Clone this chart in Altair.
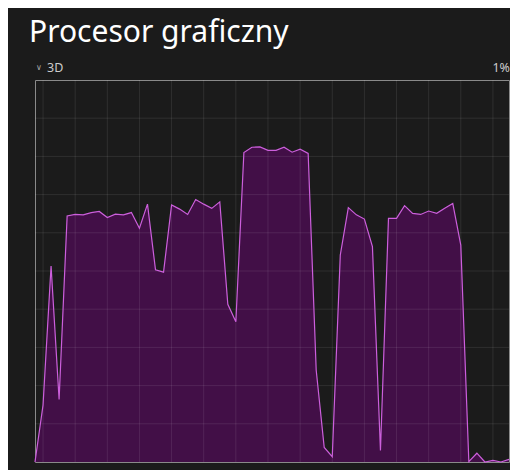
import altair as alt
import pandas as pd

# Seconds along the 60-second window
seconds = list(range(60))
# 3D engine usage (%)
usage = [0, 14.9, 51.3, 16.4, 64.4, 64.8, 64.7, 65.3, 65.6, 64.0,
         64.9, 64.7, 65.3, 61.2, 67.5, 50.3, 49.7, 67.3, 66.2, 64.8,
         68.7, 67.5, 66.4, 68.1, 41.3, 36.7, 81.0, 82.4, 82.5, 81.6,
         81.6, 82.4, 81.1, 81.9, 80.8, 24.1, 3.8, 1.4, 54.2, 66.6,
         64.7, 63.6, 56.4, 3.0, 63.8, 63.8, 67.1, 65.1, 64.8, 65.7,
         65.1, 66.4, 67.7, 56.8, 0.1, 2.3, 0, 0.4, 0, 0.7]
x_grid = list(range(1, 60, 4))
y_grid = list(range(10, 100, 10))

title_text = "Procesor graficzny"
engine_label = "3D"
current_label = "1%"

df = pd.DataFrame({"t": seconds, "v": usage})
gx = pd.DataFrame({"t": x_grid})
gy = pd.DataFrame({"v": y_grid})

BG = "#1b1b1b"
FILL = "#420f47"
LINE = "#cc5fdc"
FONT = "Noto Sans"

xs = alt.X("t:Q", scale=alt.Scale(domain=[0, 59], nice=False, zero=False),
           axis=None)
ys = alt.Y("v:Q", scale=alt.Scale(domain=[0, 100], nice=False), axis=None)

area = alt.Chart(df).mark_area(color=FILL, opacity=1).encode(x=xs, y=ys)
vgrid = alt.Chart(gx).mark_rule(color="#ffffff", opacity=0.09,
                                strokeWidth=1).encode(x="t:Q")
hgrid = alt.Chart(gy).mark_rule(color="#ffffff", opacity=0.09,
                                strokeWidth=1).encode(y="v:Q")
line = alt.Chart(df).mark_line(color=LINE, strokeWidth=1.2).encode(x="t:Q", y="v:Q")

tdf = pd.DataFrame({"a": [0]})
title = alt.Chart(tdf).mark_text(text=title_text, font=FONT, fontSize=30,
                                 color="#ffffff", align="left",
                                 baseline="alphabetic").encode(
    x=alt.value(-6), y=alt.value(-38))
chev = alt.Chart(tdf).mark_text(text="∨", font="DejaVu Sans", fontSize=8,
                                color="#aaaaaa", align="left",
                                baseline="alphabetic").encode(
    x=alt.value(1), y=alt.value(-10))
eng = alt.Chart(tdf).mark_text(text=engine_label, font=FONT, fontSize=12.5,
                               color="#cccccc", align="left",
                               baseline="alphabetic").encode(
    x=alt.value(12), y=alt.value(-8))
cur = alt.Chart(tdf).mark_text(text=current_label, font=FONT, fontSize=12.5,
                               color="#cccccc", align="right",
                               baseline="alphabetic").encode(
    x=alt.value(475), y=alt.value(-8))

chart = alt.layer(area, vgrid, hgrid, line, title, chev, eng, cur).properties(
    width=474, height=382, background=BG,
    autosize=alt.AutoSizeParams(type="none"),
    padding={"left": 27, "top": 72, "right": 1, "bottom": 8},
).configure_view(stroke="#8a8a8a", strokeWidth=1, fill=BG)

chart.save("out.html", embed_options={"renderer": "svg", "actions": False})
